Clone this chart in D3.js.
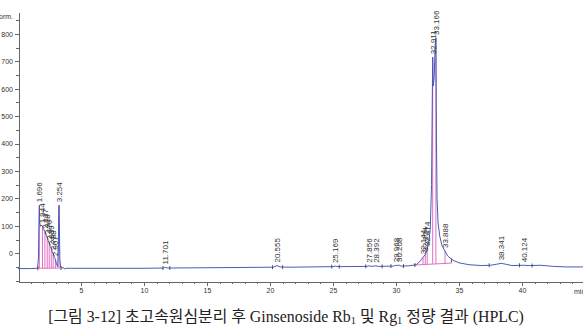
<!DOCTYPE html>
<html>
<head>
<meta charset="utf-8">
<script src="https://cdn.jsdelivr.net/npm/d3@7"></script>
<style>
  html, body { margin: 0; padding: 0; background: #fff; }
  #graph { width: 583px; height: 329px; overflow: hidden; }
  .axis text { font-family: "Liberation Sans", Arial, sans-serif; font-size: 7px; fill: #333; }
  .axis path, .axis line { stroke: #666; stroke-width: 1; shape-rendering: crispEdges; }
  .peakLabel { font-family: "Liberation Sans", Arial, sans-serif; font-size: 8px; fill: #333; }
  .caption { font-family: "Liberation Serif", "Noto Sans CJK KR", serif; fill: #222; }
</style>
</head>
<body>
<div id="graph"></div>
<script>
// 크로마토그램 신호 (분, mAU) - 그림에서 읽은 값
var trace = [
  [0, -56], [1.0, -56], [1.55, -55], [1.62, -20], [1.67, 120], [1.696, 175], [1.72, 110],
  [1.8, 98], [1.88, 103], [1.944, 98], [2.0, 90], [2.06, 85], [2.137, 78], [2.2, 70],
  [2.318, 58], [2.4, 45], [2.476, 38], [2.56, 25], [2.639, 18], [2.72, 5], [2.788, 0],
  [2.88, -15], [2.967, -22], [3.05, -38], [3.15, -50], [3.2, 20], [3.23, 140], [3.254, 175],
  [3.28, 120], [3.32, -20], [3.38, -50], [3.5, -54], [3.6, -52], [3.7, -58], [3.8, -55],
  [5, -55], [10, -55], [11.5, -54], [11.701, -52], [11.9, -54], [15, -53], [20.3, -51],
  [20.555, -45], [20.8, -50], [21.5, -51], [25, -49], [25.169, -47], [25.4, -49],
  [27.7, -48], [27.856, -46], [28.1, -48], [28.392, -46], [28.6, -48], [29.8, -47],
  [29.968, -44], [30.1, -45], [30.208, -43], [30.4, -47], [31.0, -46], [31.6, -42],
  [31.9, -30], [32.144, -15], [32.324, -5], [32.474, 15], [32.6, 40], [32.72, 90],
  [32.82, 250], [32.88, 560], [32.911, 715], [32.96, 610], [33.03, 640], [33.11, 760],
  [33.166, 785], [33.21, 420], [33.26, 200], [33.34, 110], [33.48, 60], [33.65, 28],
  [33.888, 8], [34.1, -10], [34.5, -25], [35.0, -35], [35.8, -42], [36.8, -45], [37.5, -44],
  [38.0, -40], [38.341, -37], [38.7, -40], [39.2, -45], [40.124, -44], [40.6, -45],
  [41.5, -44], [42.5, -48], [43.5, -50], [45, -50]
];

// 피크 머무름 시간, 꼭짓점 높이, 기준선 높이
var peakTimes = [1.696, 1.944, 2.137, 2.318, 2.476, 2.639, 2.788, 2.967, 3.254, 11.701,
  20.555, 25.169, 27.856, 28.392, 29.968, 30.208, 32.144, 32.324, 32.474, 32.911,
  33.166, 33.888, 38.341, 40.124];
var peakTops = [175, 98, 78, 58, 38, 18, 0, -22, 175, -52,
  -45, -47, -46, -46, -44, -43, -15, -5, 15, 715,
  785, 8, -37, -44];
var peakBases = [-55, -55, -55, -55, -55, -55, -55, -55, -54, -54,
  -51, -49, -48, -48, -47, -47, -42, -41, -41, -39,
  -39, -37, -42, -45];

// 적분 기준선 구간 [시작분, 시작값, 끝분, 끝값]
var baseSegments = [[1.58, -55, 3.42, -54], [31.5, -43, 34.4, -36]];

// 적분 이벤트 눈금
var eventTimes = [1.58, 3.42, 11.5, 12.05, 20.2, 21.0, 24.9, 25.5, 27.6, 28.9, 29.6, 30.6, 31.5, 34.4, 37.4, 39.8, 40.8];
var eventLevels = [-55, -54, -54, -54, -51, -51, -49, -49, -48, -48, -47, -47, -43, -27, -44, -44, -45];

// 축 눈금
var yMajor = [0, 100, 200, 300, 400, 500, 600, 700, 800];
var xMajor = [5, 10, 15, 20, 25, 30, 35, 40];

var width = 583, height = 329;

var svg = d3.select("#graph").append("svg")
  .attr("width", width).attr("height", height);

var axisLayer = svg.append("g").classed("axisLayer", true);
var chartLayer = svg.append("g").classed("chartLayer", true);

var xScale = d3.scaleLinear().domain([0, 45]).range([18, 585]);
var yScale = d3.scaleLinear().domain([-105, 880]).range([282, 12]);

renderAxis();
renderChart();
renderCaption();

function renderAxis() {
  // y축 보조 눈금
  axisLayer.append("g")
    .attr("class", "axis y minor")
    .attr("transform", "translate(18.5,0)")
    .call(d3.axisLeft(yScale).tickValues(d3.range(-100, 881, 50)).tickSize(2.5).tickSizeOuter(0).tickFormat(""));
  axisLayer.append("g")
    .attr("class", "axis y")
    .attr("transform", "translate(18.5,0)")
    .call(d3.axisLeft(yScale).tickValues(yMajor).tickSize(4).tickPadding(1.5).tickSizeOuter(0));

  // x축
  axisLayer.append("g")
    .attr("class", "axis x minor")
    .attr("transform", "translate(0,281.5)")
    .call(d3.axisBottom(xScale).tickValues(d3.range(1, 46, 1)).tickSize(2.5).tickSizeOuter(0).tickFormat(""));
  axisLayer.append("g")
    .attr("class", "axis x")
    .attr("transform", "translate(0,281.5)")
    .call(d3.axisBottom(xScale).tickValues(xMajor).tickSize(4).tickPadding(3).tickSizeOuter(0));

  // 단위 (원본처럼 오른쪽 끝에서 잘림)
  axisLayer.append("text")
    .attr("x", 574).attr("y", 293.5)
    .style("font-family", "Liberation Sans, Arial, sans-serif")
    .style("font-size", "7px").style("fill", "#333")
    .text("min");

  axisLayer.append("text")
    .attr("x", 13).attr("y", 19)
    .attr("text-anchor", "end")
    .style("font-family", "Liberation Sans, Arial, sans-serif")
    .style("font-size", "7px").style("fill", "#333")
    .text("Norm.");
}

function renderChart() {
  var peaks = peakTimes.map(function(t, i) {
    return { t: t, top: peakTops[i], base: peakBases[i] };
  });

  // 기준선 (분홍)
  chartLayer.selectAll(".base").data(baseSegments).enter().append("line")
    .attr("class", "base")
    .attr("x1", function(d) { return xScale(d[0]); })
    .attr("y1", function(d) { return yScale(d[1]); })
    .attr("x2", function(d) { return xScale(d[2]); })
    .attr("y2", function(d) { return yScale(d[3]); })
    .attr("stroke", "#e070c0").attr("stroke-width", 1);

  // 드롭 라인
  chartLayer.selectAll(".drop").data(peaks.filter(function(d) { return d.top - d.base > 10; }))
    .enter().append("line")
    .attr("class", "drop")
    .attr("x1", function(d) { return xScale(d.t); })
    .attr("x2", function(d) { return xScale(d.t); })
    .attr("y1", function(d) { return yScale(d.top); })
    .attr("y2", function(d) { return yScale(d.base); })
    .attr("stroke", "#e070c0").attr("stroke-width", 1);

  // 신호
  var line = d3.line()
    .x(function(d) { return xScale(d[0]); })
    .y(function(d) { return yScale(d[1]); });
  chartLayer.append("path")
    .datum(trace)
    .attr("d", line)
    .attr("fill", "none")
    .attr("stroke", "#4a5ab8")
    .attr("stroke-width", 1);

  // 이벤트 눈금
  chartLayer.selectAll(".event").data(eventTimes).enter().append("line")
    .attr("class", "event")
    .attr("x1", function(d) { return xScale(d); })
    .attr("x2", function(d) { return xScale(d); })
    .attr("y1", function(d, i) { return yScale(eventLevels[i]) - 2; })
    .attr("y2", function(d, i) { return yScale(eventLevels[i]) + 2; })
    .attr("stroke", "#333").attr("stroke-width", 0.8);

  // 피크 라벨
  chartLayer.selectAll(".peakLabel").data(peaks).enter().append("text")
    .attr("class", "peakLabel")
    .attr("transform", function(d) {
      return "translate(" + [xScale(d.t) + 3, yScale(d.top) - 3] + ") rotate(-90)";
    })
    .text(function(d) { return d.t.toFixed(3); });
}

function renderCaption() {
  var cap = svg.append("text")
    .attr("class", "caption")
    .attr("x", 286).attr("y", 322)
    .attr("text-anchor", "middle")
    .style("font-size", "15px");
  cap.append("tspan").text("[그림 3-12] 초고속원심분리 후 Ginsenoside Rb");
  cap.append("tspan").attr("dy", 2).style("font-size", "10px").text("1");
  cap.append("tspan").attr("dy", -2).text(" 및 Rg");
  cap.append("tspan").attr("dy", 2).style("font-size", "10px").text("1");
  cap.append("tspan").attr("dy", -2).text(" 정량 결과 (HPLC)");

  // 원본 너비(약 476px)에 맞춰 글자 크기 조정
  var w = cap.node().getComputedTextLength();
  var fs = 15 * 476 / w;
  cap.style("font-size", fs + "px");
  cap.selectAll("tspan").filter(function() { return this.textContent === "1"; })
    .style("font-size", (fs * 0.66) + "px");
}
</script>
</body>
</html>
